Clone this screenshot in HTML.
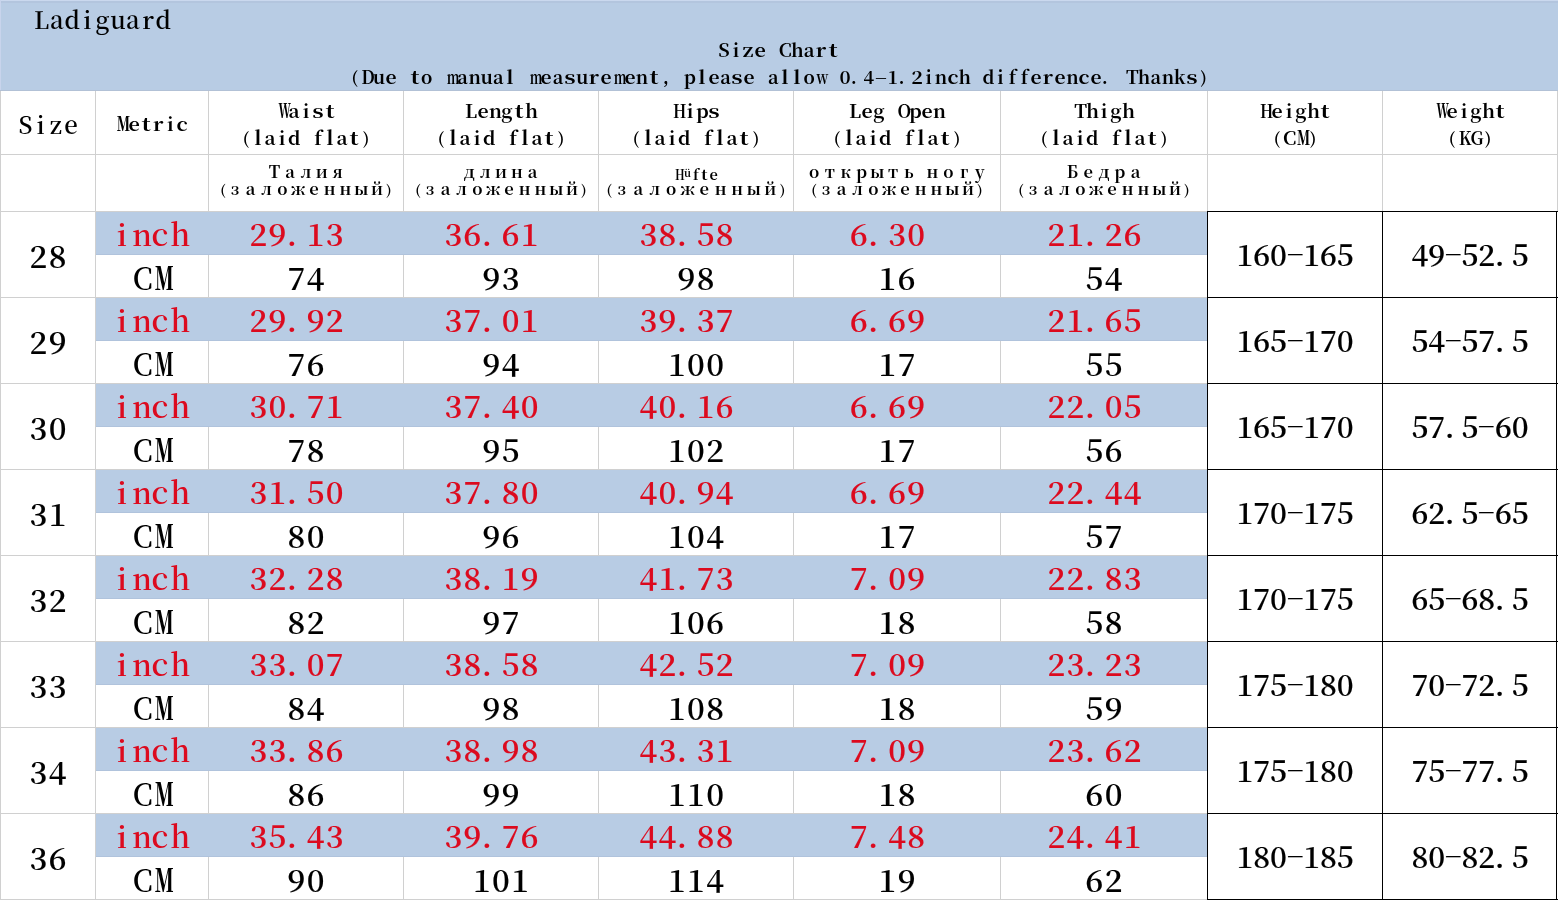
<!DOCTYPE html>
<html><head><meta charset="utf-8"><title>Size Chart</title>
<style>
html,body{margin:0;padding:0;background:#fff;}
body{width:1558px;height:900px;overflow:hidden;position:relative;font-family:"Liberation Serif","Noto Serif CJK SC",serif;color:#000;}
.r{position:absolute;}
.m{position:absolute;white-space:nowrap;}
.m i{display:inline-block;font-style:normal;text-align:center;width:var(--w);white-space:pre;}
.m i.p{text-align:left;text-indent:-0.01em;}
</style></head><body>
<div class="r" style="left:0px;top:0px;width:1558px;height:91px;background:#b8cce4"></div>
<div class="r" style="left:0px;top:0px;width:1558px;height:1px;background:#cad8ee"></div>
<div class="r" style="left:0px;top:1px;width:1558px;height:2px;background:#b3c5de"></div>
<div class="r" style="left:0px;top:0px;width:1px;height:91px;background:#c8d4ec"></div>
<div class="r" style="left:0px;top:90px;width:1558px;height:1px;background:#b2c1d6"></div>
<div class="r" style="left:96px;top:212px;width:1111px;height:43px;background:#b8cce4"></div>
<div class="r" style="left:96px;top:254px;width:1111px;height:1px;background:#b0c3dc"></div>
<div class="r" style="left:96px;top:298px;width:1111px;height:43px;background:#b8cce4"></div>
<div class="r" style="left:96px;top:340px;width:1111px;height:1px;background:#b0c3dc"></div>
<div class="r" style="left:96px;top:384px;width:1111px;height:43px;background:#b8cce4"></div>
<div class="r" style="left:96px;top:426px;width:1111px;height:1px;background:#b0c3dc"></div>
<div class="r" style="left:96px;top:470px;width:1111px;height:43px;background:#b8cce4"></div>
<div class="r" style="left:96px;top:512px;width:1111px;height:1px;background:#b0c3dc"></div>
<div class="r" style="left:96px;top:556px;width:1111px;height:43px;background:#b8cce4"></div>
<div class="r" style="left:96px;top:598px;width:1111px;height:1px;background:#b0c3dc"></div>
<div class="r" style="left:96px;top:642px;width:1111px;height:43px;background:#b8cce4"></div>
<div class="r" style="left:96px;top:684px;width:1111px;height:1px;background:#b0c3dc"></div>
<div class="r" style="left:96px;top:728px;width:1111px;height:43px;background:#b8cce4"></div>
<div class="r" style="left:96px;top:770px;width:1111px;height:1px;background:#b0c3dc"></div>
<div class="r" style="left:96px;top:814px;width:1111px;height:43px;background:#b8cce4"></div>
<div class="r" style="left:96px;top:856px;width:1111px;height:1px;background:#b0c3dc"></div>
<div class="r" style="left:0px;top:154px;width:1558px;height:1px;background:#d0d0d0"></div>
<div class="r" style="left:0px;top:211px;width:1207px;height:1px;background:#d0d0d0"></div>
<div class="r" style="left:0px;top:297px;width:1207px;height:1px;background:#d0d0d0"></div>
<div class="r" style="left:0px;top:383px;width:1207px;height:1px;background:#d0d0d0"></div>
<div class="r" style="left:0px;top:469px;width:1207px;height:1px;background:#d0d0d0"></div>
<div class="r" style="left:0px;top:555px;width:1207px;height:1px;background:#d0d0d0"></div>
<div class="r" style="left:0px;top:641px;width:1207px;height:1px;background:#d0d0d0"></div>
<div class="r" style="left:0px;top:727px;width:1207px;height:1px;background:#d0d0d0"></div>
<div class="r" style="left:0px;top:813px;width:1207px;height:1px;background:#d0d0d0"></div>
<div class="r" style="left:0px;top:899px;width:1207px;height:1px;background:#d0d0d0"></div>
<div class="r" style="left:0px;top:91px;width:1px;height:120px;background:#d0d0d0"></div>
<div class="r" style="left:95px;top:91px;width:1px;height:120px;background:#d0d0d0"></div>
<div class="r" style="left:208px;top:91px;width:1px;height:120px;background:#d0d0d0"></div>
<div class="r" style="left:403px;top:91px;width:1px;height:120px;background:#d0d0d0"></div>
<div class="r" style="left:598px;top:91px;width:1px;height:120px;background:#d0d0d0"></div>
<div class="r" style="left:793px;top:91px;width:1px;height:120px;background:#d0d0d0"></div>
<div class="r" style="left:1000px;top:91px;width:1px;height:120px;background:#d0d0d0"></div>
<div class="r" style="left:1207px;top:91px;width:1px;height:120px;background:#d0d0d0"></div>
<div class="r" style="left:1382px;top:91px;width:1px;height:120px;background:#d0d0d0"></div>
<div class="r" style="left:1557px;top:91px;width:1px;height:120px;background:#d0d0d0"></div>
<div class="r" style="left:0px;top:211px;width:1px;height:689px;background:#d0d0d0"></div>
<div class="r" style="left:95px;top:211px;width:1px;height:689px;background:#d0d0d0"></div>
<div class="r" style="left:208px;top:255px;width:1px;height:42px;background:#d0d0d0"></div>
<div class="r" style="left:403px;top:255px;width:1px;height:42px;background:#d0d0d0"></div>
<div class="r" style="left:598px;top:255px;width:1px;height:42px;background:#d0d0d0"></div>
<div class="r" style="left:793px;top:255px;width:1px;height:42px;background:#d0d0d0"></div>
<div class="r" style="left:1000px;top:255px;width:1px;height:42px;background:#d0d0d0"></div>
<div class="r" style="left:208px;top:341px;width:1px;height:42px;background:#d0d0d0"></div>
<div class="r" style="left:403px;top:341px;width:1px;height:42px;background:#d0d0d0"></div>
<div class="r" style="left:598px;top:341px;width:1px;height:42px;background:#d0d0d0"></div>
<div class="r" style="left:793px;top:341px;width:1px;height:42px;background:#d0d0d0"></div>
<div class="r" style="left:1000px;top:341px;width:1px;height:42px;background:#d0d0d0"></div>
<div class="r" style="left:208px;top:427px;width:1px;height:42px;background:#d0d0d0"></div>
<div class="r" style="left:403px;top:427px;width:1px;height:42px;background:#d0d0d0"></div>
<div class="r" style="left:598px;top:427px;width:1px;height:42px;background:#d0d0d0"></div>
<div class="r" style="left:793px;top:427px;width:1px;height:42px;background:#d0d0d0"></div>
<div class="r" style="left:1000px;top:427px;width:1px;height:42px;background:#d0d0d0"></div>
<div class="r" style="left:208px;top:513px;width:1px;height:42px;background:#d0d0d0"></div>
<div class="r" style="left:403px;top:513px;width:1px;height:42px;background:#d0d0d0"></div>
<div class="r" style="left:598px;top:513px;width:1px;height:42px;background:#d0d0d0"></div>
<div class="r" style="left:793px;top:513px;width:1px;height:42px;background:#d0d0d0"></div>
<div class="r" style="left:1000px;top:513px;width:1px;height:42px;background:#d0d0d0"></div>
<div class="r" style="left:208px;top:599px;width:1px;height:42px;background:#d0d0d0"></div>
<div class="r" style="left:403px;top:599px;width:1px;height:42px;background:#d0d0d0"></div>
<div class="r" style="left:598px;top:599px;width:1px;height:42px;background:#d0d0d0"></div>
<div class="r" style="left:793px;top:599px;width:1px;height:42px;background:#d0d0d0"></div>
<div class="r" style="left:1000px;top:599px;width:1px;height:42px;background:#d0d0d0"></div>
<div class="r" style="left:208px;top:685px;width:1px;height:42px;background:#d0d0d0"></div>
<div class="r" style="left:403px;top:685px;width:1px;height:42px;background:#d0d0d0"></div>
<div class="r" style="left:598px;top:685px;width:1px;height:42px;background:#d0d0d0"></div>
<div class="r" style="left:793px;top:685px;width:1px;height:42px;background:#d0d0d0"></div>
<div class="r" style="left:1000px;top:685px;width:1px;height:42px;background:#d0d0d0"></div>
<div class="r" style="left:208px;top:771px;width:1px;height:42px;background:#d0d0d0"></div>
<div class="r" style="left:403px;top:771px;width:1px;height:42px;background:#d0d0d0"></div>
<div class="r" style="left:598px;top:771px;width:1px;height:42px;background:#d0d0d0"></div>
<div class="r" style="left:793px;top:771px;width:1px;height:42px;background:#d0d0d0"></div>
<div class="r" style="left:1000px;top:771px;width:1px;height:42px;background:#d0d0d0"></div>
<div class="r" style="left:208px;top:857px;width:1px;height:42px;background:#d0d0d0"></div>
<div class="r" style="left:403px;top:857px;width:1px;height:42px;background:#d0d0d0"></div>
<div class="r" style="left:598px;top:857px;width:1px;height:42px;background:#d0d0d0"></div>
<div class="r" style="left:793px;top:857px;width:1px;height:42px;background:#d0d0d0"></div>
<div class="r" style="left:1000px;top:857px;width:1px;height:42px;background:#d0d0d0"></div>
<div class="r" style="left:1207px;top:211px;width:351px;height:1px;background:#000"></div>
<div class="r" style="left:1207px;top:297px;width:351px;height:1px;background:#000"></div>
<div class="r" style="left:1207px;top:383px;width:351px;height:1px;background:#000"></div>
<div class="r" style="left:1207px;top:469px;width:351px;height:1px;background:#000"></div>
<div class="r" style="left:1207px;top:555px;width:351px;height:1px;background:#000"></div>
<div class="r" style="left:1207px;top:641px;width:351px;height:1px;background:#000"></div>
<div class="r" style="left:1207px;top:727px;width:351px;height:1px;background:#000"></div>
<div class="r" style="left:1207px;top:813px;width:351px;height:1px;background:#000"></div>
<div class="r" style="left:1207px;top:899px;width:351px;height:1px;background:#000"></div>
<div class="r" style="left:1207px;top:211px;width:1px;height:689px;background:#000"></div>
<div class="r" style="left:1382px;top:211px;width:1px;height:689px;background:#000"></div>
<div class="r" style="left:1556px;top:211px;width:1px;height:689px;background:#000"></div>
<div class="m" style="left:34.10px;top:7.32px;font-size:24.00px;line-height:24.00px;--w:15.20px;font-weight:600;font-family:'Noto Serif CJK SC', 'Liberation Serif', serif;"><i>L</i><i>a</i><i>d</i><i>i</i><i>g</i><i style="transform:scaleX(0.969)">u</i><i>a</i><i>r</i><i>d</i></div>
<div class="m" style="left:717.80px;top:39.65px;font-size:18.50px;line-height:18.50px;--w:12.20px;font-weight:700;font-family:'Noto Serif CJK SC', 'Liberation Serif', serif;"><i style="transform:scaleX(1.049)">S</i><i>i</i><i style="transform:scaleX(1.147)">z</i><i style="transform:scaleX(1.066)">e</i><i> </i><i>C</i><i>h</i><i>a</i><i style="transform:scaleX(1.125)">r</i><i style="transform:scaleX(1.266)">t</i></div>
<div class="m" style="left:348.94px;top:66.63px;font-size:18.20px;line-height:18.20px;--w:11.96px;font-weight:700;font-family:'Noto Serif CJK SC', 'Liberation Serif', serif;"><i style="font-size:16.50px">(</i><i style="transform:scaleX(0.944)">D</i><i>u</i><i style="transform:scaleX(1.062)">e</i><i> </i><i style="transform:scaleX(1.262)">t</i><i>o</i><i> </i><i style="transform:scaleX(0.691)">m</i><i>a</i><i>n</i><i>u</i><i>a</i><i style="transform:scaleX(1.129)">l</i><i> </i><i style="transform:scaleX(0.691)">m</i><i style="transform:scaleX(1.062)">e</i><i>a</i><i style="transform:scaleX(1.258)">s</i><i>u</i><i style="transform:scaleX(1.121)">r</i><i style="transform:scaleX(1.062)">e</i><i style="transform:scaleX(0.691)">m</i><i style="transform:scaleX(1.062)">e</i><i>n</i><i style="transform:scaleX(1.262)">t</i><i>,</i><i> </i><i>p</i><i style="transform:scaleX(1.129)">l</i><i style="transform:scaleX(1.062)">e</i><i>a</i><i style="transform:scaleX(1.258)">s</i><i style="transform:scaleX(1.062)">e</i><i> </i><i>a</i><i style="transform:scaleX(1.129)">l</i><i style="transform:scaleX(1.129)">l</i><i>o</i><i style="transform:scaleX(0.748)">w</i><i> </i><i style="transform:scaleX(1.041)">0</i><i class="p">.</i><i>4</i><i style="transform:translateY(0.00px) scale(2.011,0.75)">-</i><i>1</i><i class="p">.</i><i style="transform:scaleX(1.084)">2</i><i>i</i><i>n</i><i style="transform:scaleX(1.077)">c</i><i>h</i><i> </i><i>d</i><i>i</i><i>f</i><i>f</i><i style="transform:scaleX(1.062)">e</i><i style="transform:scaleX(1.121)">r</i><i style="transform:scaleX(1.062)">e</i><i>n</i><i style="transform:scaleX(1.077)">c</i><i style="transform:scaleX(1.062)">e</i><i class="p">.</i><i> </i><i>T</i><i>h</i><i>a</i><i>n</i><i>k</i><i style="transform:scaleX(1.258)">s</i><i style="font-size:16.50px">)</i></div>
<div class="m" style="left:17.80px;top:111.92px;font-size:24.00px;line-height:24.00px;--w:15.20px;font-weight:600;font-family:'Noto Serif CJK SC', 'Liberation Serif', serif;"><i>S</i><i>i</i><i>z</i><i>e</i></div>
<div class="m" style="left:115.40px;top:113.28px;font-size:19.00px;line-height:19.00px;--w:12.20px;font-weight:700;font-family:'Noto Serif CJK SC', 'Liberation Serif', serif;"><i style="font-weight:900;transform:scaleX(0.693)">M</i><i style="transform:scaleX(1.038)">e</i><i style="transform:scaleX(1.233)">t</i><i style="transform:scaleX(1.095)">r</i><i>i</i><i style="transform:scaleX(1.053)">c</i></div>
<div class="m" style="left:276.00px;top:100.28px;font-size:19.00px;line-height:19.00px;--w:12.00px;font-weight:700;font-family:'Noto Serif CJK SC', 'Liberation Serif', serif;"><i style="font-weight:900;transform:scaleX(0.586)">W</i><i>a</i><i>i</i><i style="transform:scaleX(1.209)">s</i><i style="transform:scaleX(1.213)">t</i></div>
<div class="m" style="left:240.00px;top:126.88px;font-size:19.00px;line-height:19.00px;--w:12.00px;font-weight:700;font-family:'Noto Serif CJK SC', 'Liberation Serif', serif;"><i style="font-size:16.50px">(</i><i style="transform:scaleX(1.085)">l</i><i>a</i><i>i</i><i>d</i><i> </i><i>f</i><i style="transform:scaleX(1.085)">l</i><i>a</i><i style="transform:scaleX(1.213)">t</i><i style="font-size:16.50px">)</i></div>
<div class="m" style="left:465.00px;top:100.28px;font-size:19.00px;line-height:19.00px;--w:12.00px;font-weight:700;font-family:'Noto Serif CJK SC', 'Liberation Serif', serif;"><i>L</i><i style="transform:scaleX(1.021)">e</i><i>n</i><i>g</i><i style="transform:scaleX(1.213)">t</i><i>h</i></div>
<div class="m" style="left:435.00px;top:126.88px;font-size:19.00px;line-height:19.00px;--w:12.00px;font-weight:700;font-family:'Noto Serif CJK SC', 'Liberation Serif', serif;"><i style="font-size:16.50px">(</i><i style="transform:scaleX(1.085)">l</i><i>a</i><i>i</i><i>d</i><i> </i><i>f</i><i style="transform:scaleX(1.085)">l</i><i>a</i><i style="transform:scaleX(1.213)">t</i><i style="font-size:16.50px">)</i></div>
<div class="m" style="left:672.00px;top:100.28px;font-size:19.00px;line-height:19.00px;--w:12.00px;font-weight:700;font-family:'Noto Serif CJK SC', 'Liberation Serif', serif;"><i style="transform:scaleX(0.816)">H</i><i>i</i><i>p</i><i style="transform:scaleX(1.209)">s</i></div>
<div class="m" style="left:630.00px;top:126.88px;font-size:19.00px;line-height:19.00px;--w:12.00px;font-weight:700;font-family:'Noto Serif CJK SC', 'Liberation Serif', serif;"><i style="font-size:16.50px">(</i><i style="transform:scaleX(1.085)">l</i><i>a</i><i>i</i><i>d</i><i> </i><i>f</i><i style="transform:scaleX(1.085)">l</i><i>a</i><i style="transform:scaleX(1.213)">t</i><i style="font-size:16.50px">)</i></div>
<div class="m" style="left:849.00px;top:100.28px;font-size:19.00px;line-height:19.00px;--w:12.00px;font-weight:700;font-family:'Noto Serif CJK SC', 'Liberation Serif', serif;"><i>L</i><i style="transform:scaleX(1.021)">e</i><i>g</i><i> </i><i style="transform:scaleX(0.915)">O</i><i>p</i><i style="transform:scaleX(1.021)">e</i><i>n</i></div>
<div class="m" style="left:831.00px;top:126.88px;font-size:19.00px;line-height:19.00px;--w:12.00px;font-weight:700;font-family:'Noto Serif CJK SC', 'Liberation Serif', serif;"><i style="font-size:16.50px">(</i><i style="transform:scaleX(1.085)">l</i><i>a</i><i>i</i><i>d</i><i> </i><i>f</i><i style="transform:scaleX(1.085)">l</i><i>a</i><i style="transform:scaleX(1.213)">t</i><i style="font-size:16.50px">)</i></div>
<div class="m" style="left:1074.00px;top:100.28px;font-size:19.00px;line-height:19.00px;--w:12.00px;font-weight:700;font-family:'Noto Serif CJK SC', 'Liberation Serif', serif;"><i style="transform:scaleX(0.972)">T</i><i>h</i><i>i</i><i>g</i><i>h</i></div>
<div class="m" style="left:1038.00px;top:126.88px;font-size:19.00px;line-height:19.00px;--w:12.00px;font-weight:700;font-family:'Noto Serif CJK SC', 'Liberation Serif', serif;"><i style="font-size:16.50px">(</i><i style="transform:scaleX(1.085)">l</i><i>a</i><i>i</i><i>d</i><i> </i><i>f</i><i style="transform:scaleX(1.085)">l</i><i>a</i><i style="transform:scaleX(1.213)">t</i><i style="font-size:16.50px">)</i></div>
<div class="m" style="left:1259.00px;top:100.28px;font-size:19.00px;line-height:19.00px;--w:12.00px;font-weight:700;font-family:'Noto Serif CJK SC', 'Liberation Serif', serif;"><i style="transform:scaleX(0.816)">H</i><i style="transform:scaleX(1.021)">e</i><i>i</i><i>g</i><i>h</i><i style="transform:scaleX(1.213)">t</i></div>
<div class="m" style="left:1271.00px;top:126.88px;font-size:19.00px;line-height:19.00px;--w:12.00px;font-weight:700;font-family:'Noto Serif CJK SC', 'Liberation Serif', serif;"><i style="font-size:16.50px">(</i><i>C</i><i style="font-weight:900;transform:scaleX(0.682)">M</i><i style="font-size:16.50px">)</i></div>
<div class="m" style="left:1434.00px;top:100.28px;font-size:19.00px;line-height:19.00px;--w:12.00px;font-weight:700;font-family:'Noto Serif CJK SC', 'Liberation Serif', serif;"><i style="font-weight:900;transform:scaleX(0.586)">W</i><i style="transform:scaleX(1.021)">e</i><i>i</i><i>g</i><i>h</i><i style="transform:scaleX(1.213)">t</i></div>
<div class="m" style="left:1446.00px;top:126.88px;font-size:19.00px;line-height:19.00px;--w:12.00px;font-weight:700;font-family:'Noto Serif CJK SC', 'Liberation Serif', serif;"><i style="font-size:16.50px">(</i><i style="transform:scaleX(0.876)">K</i><i style="transform:scaleX(0.909)">G</i><i style="font-size:16.50px">)</i></div>
<div class="m" style="left:266.50px;top:163.31px;font-size:16.50px;line-height:16.50px;--w:7.90px;font-weight:700;font-family:'Noto Serif CJK SC', 'Liberation Serif', serif;"><i style="width:15.80px">Т</i><i style="width:15.80px">а</i><i style="width:15.80px">л</i><i style="width:15.80px">и</i><i style="width:15.80px">я</i></div>
<div class="m" style="left:219.10px;top:180.01px;font-size:16.50px;line-height:16.50px;--w:7.90px;font-weight:700;font-family:'Noto Serif CJK SC', 'Liberation Serif', serif;"><i style="font-size:14.00px">(</i><i style="width:15.80px">з</i><i style="width:15.80px">а</i><i style="width:15.80px">л</i><i style="width:15.80px">о</i><i style="width:15.80px">ж</i><i style="width:15.80px">е</i><i style="width:15.80px">н</i><i style="width:15.80px">н</i><i style="width:15.80px">ы</i><i style="width:15.80px">й</i><i style="font-size:14.00px">)</i></div>
<div class="m" style="left:461.50px;top:163.31px;font-size:16.50px;line-height:16.50px;--w:7.90px;font-weight:700;font-family:'Noto Serif CJK SC', 'Liberation Serif', serif;"><i style="width:15.80px">д</i><i style="width:15.80px">л</i><i style="width:15.80px">и</i><i style="width:15.80px">н</i><i style="width:15.80px">а</i></div>
<div class="m" style="left:414.10px;top:180.01px;font-size:16.50px;line-height:16.50px;--w:7.90px;font-weight:700;font-family:'Noto Serif CJK SC', 'Liberation Serif', serif;"><i style="font-size:14.00px">(</i><i style="width:15.80px">з</i><i style="width:15.80px">а</i><i style="width:15.80px">л</i><i style="width:15.80px">о</i><i style="width:15.80px">ж</i><i style="width:15.80px">е</i><i style="width:15.80px">н</i><i style="width:15.80px">н</i><i style="width:15.80px">ы</i><i style="width:15.80px">й</i><i style="font-size:14.00px">)</i></div>
<div class="m" style="left:674.00px;top:166.08px;font-size:14.50px;line-height:14.50px;--w:8.80px;font-weight:700;font-family:'Noto Serif CJK SC', 'Liberation Serif', serif;"><i style="transform:scaleX(0.784)">H</i><i style="font-size:10.44px;vertical-align:2.90px;transform:scaleX(0.982)">ü</i><i>f</i><i style="transform:scaleX(1.165)">t</i><i>e</i></div>
<div class="m" style="left:605.25px;top:180.01px;font-size:16.50px;line-height:16.50px;--w:8.25px;font-weight:700;font-family:'Noto Serif CJK SC', 'Liberation Serif', serif;"><i style="font-size:14.00px">(</i><i style="width:16.50px">з</i><i style="width:16.50px">а</i><i style="width:16.50px">л</i><i style="width:16.50px">о</i><i style="width:16.50px">ж</i><i style="width:16.50px">е</i><i style="width:16.50px">н</i><i style="width:16.50px">н</i><i style="width:16.50px">ы</i><i style="width:16.50px">й</i><i style="font-size:14.00px">)</i></div>
<div class="m" style="left:806.15px;top:163.31px;font-size:16.50px;line-height:16.50px;--w:7.90px;font-weight:700;font-family:'Noto Serif CJK SC', 'Liberation Serif', serif;"><i style="width:15.80px">о</i><i style="width:15.80px">т</i><i style="width:15.80px">к</i><i style="width:15.80px">р</i><i style="width:15.80px">ы</i><i style="width:15.80px">т</i><i style="width:15.80px">ь</i><i> </i><i style="width:15.80px">н</i><i style="width:15.80px">о</i><i style="width:15.80px">г</i><i style="width:15.80px">у</i></div>
<div class="m" style="left:810.10px;top:180.01px;font-size:16.50px;line-height:16.50px;--w:7.90px;font-weight:700;font-family:'Noto Serif CJK SC', 'Liberation Serif', serif;"><i style="font-size:14.00px">(</i><i style="width:15.80px">з</i><i style="width:15.80px">а</i><i style="width:15.80px">л</i><i style="width:15.80px">о</i><i style="width:15.80px">ж</i><i style="width:15.80px">е</i><i style="width:15.80px">н</i><i style="width:15.80px">н</i><i style="width:15.80px">ы</i><i style="width:15.80px">й</i><i style="font-size:14.00px">)</i></div>
<div class="m" style="left:1064.50px;top:163.31px;font-size:16.50px;line-height:16.50px;--w:7.90px;font-weight:700;font-family:'Noto Serif CJK SC', 'Liberation Serif', serif;"><i style="width:15.80px">Б</i><i style="width:15.80px">е</i><i style="width:15.80px">д</i><i style="width:15.80px">р</i><i style="width:15.80px">а</i></div>
<div class="m" style="left:1017.10px;top:180.01px;font-size:16.50px;line-height:16.50px;--w:7.90px;font-weight:700;font-family:'Noto Serif CJK SC', 'Liberation Serif', serif;"><i style="font-size:14.00px">(</i><i style="width:15.80px">з</i><i style="width:15.80px">а</i><i style="width:15.80px">л</i><i style="width:15.80px">о</i><i style="width:15.80px">ж</i><i style="width:15.80px">е</i><i style="width:15.80px">н</i><i style="width:15.80px">н</i><i style="width:15.80px">ы</i><i style="width:15.80px">й</i><i style="font-size:14.00px">)</i></div>
<div class="m" style="left:28.90px;top:238.69px;font-size:31.00px;line-height:31.00px;--w:19.20px;font-weight:600;font-family:'Noto Serif CJK SC', 'Liberation Serif', serif;-webkit-text-stroke:0.15px #000;"><i>2</i><i>8</i></div>
<div class="m" style="left:112.50px;top:218.36px;font-size:30.50px;line-height:30.50px;--w:19.00px;font-weight:600;font-family:'Noto Serif CJK SC', 'Liberation Serif', serif;color:#dc0a1e;"><i>i</i><i style="transform:scaleX(0.965)">n</i><i>c</i><i style="transform:scaleX(0.970)">h</i></div>
<div class="m" style="left:131.50px;top:260.61px;font-size:31.30px;line-height:31.30px;--w:19.00px;font-weight:600;font-family:'Noto Serif CJK SC', 'Liberation Serif', serif;"><i style="transform:scaleX(0.914)">C</i><i style="font-weight:900;transform:scaleX(0.601)">M</i></div>
<div class="m" style="left:248.75px;top:217.39px;font-size:31.00px;line-height:31.00px;--w:19.10px;font-weight:600;font-family:'Noto Serif CJK SC', 'Liberation Serif', serif;color:#dc0a1e;-webkit-text-stroke:0.15px #dc0a1e;"><i>2</i><i>9</i><i class="p">.</i><i>1</i><i>3</i></div>
<div class="m" style="left:286.90px;top:261.39px;font-size:31.00px;line-height:31.00px;--w:19.10px;font-weight:600;font-family:'Noto Serif CJK SC', 'Liberation Serif', serif;-webkit-text-stroke:0.15px #000;"><i>7</i><i>4</i></div>
<div class="m" style="left:443.75px;top:217.39px;font-size:31.00px;line-height:31.00px;--w:19.10px;font-weight:600;font-family:'Noto Serif CJK SC', 'Liberation Serif', serif;color:#dc0a1e;-webkit-text-stroke:0.15px #dc0a1e;"><i>3</i><i>6</i><i class="p">.</i><i>6</i><i>1</i></div>
<div class="m" style="left:481.90px;top:261.39px;font-size:31.00px;line-height:31.00px;--w:19.10px;font-weight:600;font-family:'Noto Serif CJK SC', 'Liberation Serif', serif;-webkit-text-stroke:0.15px #000;"><i>9</i><i>3</i></div>
<div class="m" style="left:638.75px;top:217.39px;font-size:31.00px;line-height:31.00px;--w:19.10px;font-weight:600;font-family:'Noto Serif CJK SC', 'Liberation Serif', serif;color:#dc0a1e;-webkit-text-stroke:0.15px #dc0a1e;"><i>3</i><i>8</i><i class="p">.</i><i>5</i><i>8</i></div>
<div class="m" style="left:676.90px;top:261.39px;font-size:31.00px;line-height:31.00px;--w:19.10px;font-weight:600;font-family:'Noto Serif CJK SC', 'Liberation Serif', serif;-webkit-text-stroke:0.15px #000;"><i>9</i><i>8</i></div>
<div class="m" style="left:849.30px;top:217.39px;font-size:31.00px;line-height:31.00px;--w:19.10px;font-weight:600;font-family:'Noto Serif CJK SC', 'Liberation Serif', serif;color:#dc0a1e;-webkit-text-stroke:0.15px #dc0a1e;"><i>6</i><i class="p">.</i><i>3</i><i>0</i></div>
<div class="m" style="left:877.90px;top:261.39px;font-size:31.00px;line-height:31.00px;--w:19.10px;font-weight:600;font-family:'Noto Serif CJK SC', 'Liberation Serif', serif;-webkit-text-stroke:0.15px #000;"><i>1</i><i>6</i></div>
<div class="m" style="left:1046.75px;top:217.39px;font-size:31.00px;line-height:31.00px;--w:19.10px;font-weight:600;font-family:'Noto Serif CJK SC', 'Liberation Serif', serif;color:#dc0a1e;-webkit-text-stroke:0.15px #dc0a1e;"><i>2</i><i>1</i><i class="p">.</i><i>2</i><i>6</i></div>
<div class="m" style="left:1084.90px;top:261.39px;font-size:31.00px;line-height:31.00px;--w:19.10px;font-weight:600;font-family:'Noto Serif CJK SC', 'Liberation Serif', serif;-webkit-text-stroke:0.15px #000;"><i>5</i><i>4</i></div>
<div class="m" style="left:1236.55px;top:239.29px;font-size:29.50px;line-height:29.50px;--w:16.70px;font-weight:600;font-family:'Noto Serif CJK SC', 'Liberation Serif', serif;-webkit-text-stroke:0.15px #000;"><i>1</i><i>6</i><i>0</i><i style="transform:translateY(-1.62px) scale(1.796,0.75)">-</i><i>1</i><i>6</i><i>5</i></div>
<div class="m" style="left:1411.55px;top:239.29px;font-size:29.50px;line-height:29.50px;--w:16.70px;font-weight:600;font-family:'Noto Serif CJK SC', 'Liberation Serif', serif;-webkit-text-stroke:0.15px #000;"><i>4</i><i>9</i><i style="transform:translateY(-1.62px) scale(1.796,0.75)">-</i><i>5</i><i>2</i><i class="p">.</i><i>5</i></div>
<div class="m" style="left:28.90px;top:324.69px;font-size:31.00px;line-height:31.00px;--w:19.20px;font-weight:600;font-family:'Noto Serif CJK SC', 'Liberation Serif', serif;-webkit-text-stroke:0.15px #000;"><i>2</i><i>9</i></div>
<div class="m" style="left:112.50px;top:304.36px;font-size:30.50px;line-height:30.50px;--w:19.00px;font-weight:600;font-family:'Noto Serif CJK SC', 'Liberation Serif', serif;color:#dc0a1e;"><i>i</i><i style="transform:scaleX(0.965)">n</i><i>c</i><i style="transform:scaleX(0.970)">h</i></div>
<div class="m" style="left:131.50px;top:346.61px;font-size:31.30px;line-height:31.30px;--w:19.00px;font-weight:600;font-family:'Noto Serif CJK SC', 'Liberation Serif', serif;"><i style="transform:scaleX(0.914)">C</i><i style="font-weight:900;transform:scaleX(0.601)">M</i></div>
<div class="m" style="left:248.75px;top:303.39px;font-size:31.00px;line-height:31.00px;--w:19.10px;font-weight:600;font-family:'Noto Serif CJK SC', 'Liberation Serif', serif;color:#dc0a1e;-webkit-text-stroke:0.15px #dc0a1e;"><i>2</i><i>9</i><i class="p">.</i><i>9</i><i>2</i></div>
<div class="m" style="left:286.90px;top:347.39px;font-size:31.00px;line-height:31.00px;--w:19.10px;font-weight:600;font-family:'Noto Serif CJK SC', 'Liberation Serif', serif;-webkit-text-stroke:0.15px #000;"><i>7</i><i>6</i></div>
<div class="m" style="left:443.75px;top:303.39px;font-size:31.00px;line-height:31.00px;--w:19.10px;font-weight:600;font-family:'Noto Serif CJK SC', 'Liberation Serif', serif;color:#dc0a1e;-webkit-text-stroke:0.15px #dc0a1e;"><i>3</i><i>7</i><i class="p">.</i><i>0</i><i>1</i></div>
<div class="m" style="left:481.90px;top:347.39px;font-size:31.00px;line-height:31.00px;--w:19.10px;font-weight:600;font-family:'Noto Serif CJK SC', 'Liberation Serif', serif;-webkit-text-stroke:0.15px #000;"><i>9</i><i>4</i></div>
<div class="m" style="left:638.75px;top:303.39px;font-size:31.00px;line-height:31.00px;--w:19.10px;font-weight:600;font-family:'Noto Serif CJK SC', 'Liberation Serif', serif;color:#dc0a1e;-webkit-text-stroke:0.15px #dc0a1e;"><i>3</i><i>9</i><i class="p">.</i><i>3</i><i>7</i></div>
<div class="m" style="left:667.35px;top:347.39px;font-size:31.00px;line-height:31.00px;--w:19.10px;font-weight:600;font-family:'Noto Serif CJK SC', 'Liberation Serif', serif;-webkit-text-stroke:0.15px #000;"><i>1</i><i>0</i><i>0</i></div>
<div class="m" style="left:849.30px;top:303.39px;font-size:31.00px;line-height:31.00px;--w:19.10px;font-weight:600;font-family:'Noto Serif CJK SC', 'Liberation Serif', serif;color:#dc0a1e;-webkit-text-stroke:0.15px #dc0a1e;"><i>6</i><i class="p">.</i><i>6</i><i>9</i></div>
<div class="m" style="left:877.90px;top:347.39px;font-size:31.00px;line-height:31.00px;--w:19.10px;font-weight:600;font-family:'Noto Serif CJK SC', 'Liberation Serif', serif;-webkit-text-stroke:0.15px #000;"><i>1</i><i>7</i></div>
<div class="m" style="left:1046.75px;top:303.39px;font-size:31.00px;line-height:31.00px;--w:19.10px;font-weight:600;font-family:'Noto Serif CJK SC', 'Liberation Serif', serif;color:#dc0a1e;-webkit-text-stroke:0.15px #dc0a1e;"><i>2</i><i>1</i><i class="p">.</i><i>6</i><i>5</i></div>
<div class="m" style="left:1084.90px;top:347.39px;font-size:31.00px;line-height:31.00px;--w:19.10px;font-weight:600;font-family:'Noto Serif CJK SC', 'Liberation Serif', serif;-webkit-text-stroke:0.15px #000;"><i>5</i><i>5</i></div>
<div class="m" style="left:1236.55px;top:325.29px;font-size:29.50px;line-height:29.50px;--w:16.70px;font-weight:600;font-family:'Noto Serif CJK SC', 'Liberation Serif', serif;-webkit-text-stroke:0.15px #000;"><i>1</i><i>6</i><i>5</i><i style="transform:translateY(-1.62px) scale(1.796,0.75)">-</i><i>1</i><i>7</i><i>0</i></div>
<div class="m" style="left:1411.55px;top:325.29px;font-size:29.50px;line-height:29.50px;--w:16.70px;font-weight:600;font-family:'Noto Serif CJK SC', 'Liberation Serif', serif;-webkit-text-stroke:0.15px #000;"><i>5</i><i>4</i><i style="transform:translateY(-1.62px) scale(1.796,0.75)">-</i><i>5</i><i>7</i><i class="p">.</i><i>5</i></div>
<div class="m" style="left:28.90px;top:410.69px;font-size:31.00px;line-height:31.00px;--w:19.20px;font-weight:600;font-family:'Noto Serif CJK SC', 'Liberation Serif', serif;-webkit-text-stroke:0.15px #000;"><i>3</i><i>0</i></div>
<div class="m" style="left:112.50px;top:390.36px;font-size:30.50px;line-height:30.50px;--w:19.00px;font-weight:600;font-family:'Noto Serif CJK SC', 'Liberation Serif', serif;color:#dc0a1e;"><i>i</i><i style="transform:scaleX(0.965)">n</i><i>c</i><i style="transform:scaleX(0.970)">h</i></div>
<div class="m" style="left:131.50px;top:432.61px;font-size:31.30px;line-height:31.30px;--w:19.00px;font-weight:600;font-family:'Noto Serif CJK SC', 'Liberation Serif', serif;"><i style="transform:scaleX(0.914)">C</i><i style="font-weight:900;transform:scaleX(0.601)">M</i></div>
<div class="m" style="left:248.75px;top:389.39px;font-size:31.00px;line-height:31.00px;--w:19.10px;font-weight:600;font-family:'Noto Serif CJK SC', 'Liberation Serif', serif;color:#dc0a1e;-webkit-text-stroke:0.15px #dc0a1e;"><i>3</i><i>0</i><i class="p">.</i><i>7</i><i>1</i></div>
<div class="m" style="left:286.90px;top:433.39px;font-size:31.00px;line-height:31.00px;--w:19.10px;font-weight:600;font-family:'Noto Serif CJK SC', 'Liberation Serif', serif;-webkit-text-stroke:0.15px #000;"><i>7</i><i>8</i></div>
<div class="m" style="left:443.75px;top:389.39px;font-size:31.00px;line-height:31.00px;--w:19.10px;font-weight:600;font-family:'Noto Serif CJK SC', 'Liberation Serif', serif;color:#dc0a1e;-webkit-text-stroke:0.15px #dc0a1e;"><i>3</i><i>7</i><i class="p">.</i><i>4</i><i>0</i></div>
<div class="m" style="left:481.90px;top:433.39px;font-size:31.00px;line-height:31.00px;--w:19.10px;font-weight:600;font-family:'Noto Serif CJK SC', 'Liberation Serif', serif;-webkit-text-stroke:0.15px #000;"><i>9</i><i>5</i></div>
<div class="m" style="left:638.75px;top:389.39px;font-size:31.00px;line-height:31.00px;--w:19.10px;font-weight:600;font-family:'Noto Serif CJK SC', 'Liberation Serif', serif;color:#dc0a1e;-webkit-text-stroke:0.15px #dc0a1e;"><i>4</i><i>0</i><i class="p">.</i><i>1</i><i>6</i></div>
<div class="m" style="left:667.35px;top:433.39px;font-size:31.00px;line-height:31.00px;--w:19.10px;font-weight:600;font-family:'Noto Serif CJK SC', 'Liberation Serif', serif;-webkit-text-stroke:0.15px #000;"><i>1</i><i>0</i><i>2</i></div>
<div class="m" style="left:849.30px;top:389.39px;font-size:31.00px;line-height:31.00px;--w:19.10px;font-weight:600;font-family:'Noto Serif CJK SC', 'Liberation Serif', serif;color:#dc0a1e;-webkit-text-stroke:0.15px #dc0a1e;"><i>6</i><i class="p">.</i><i>6</i><i>9</i></div>
<div class="m" style="left:877.90px;top:433.39px;font-size:31.00px;line-height:31.00px;--w:19.10px;font-weight:600;font-family:'Noto Serif CJK SC', 'Liberation Serif', serif;-webkit-text-stroke:0.15px #000;"><i>1</i><i>7</i></div>
<div class="m" style="left:1046.75px;top:389.39px;font-size:31.00px;line-height:31.00px;--w:19.10px;font-weight:600;font-family:'Noto Serif CJK SC', 'Liberation Serif', serif;color:#dc0a1e;-webkit-text-stroke:0.15px #dc0a1e;"><i>2</i><i>2</i><i class="p">.</i><i>0</i><i>5</i></div>
<div class="m" style="left:1084.90px;top:433.39px;font-size:31.00px;line-height:31.00px;--w:19.10px;font-weight:600;font-family:'Noto Serif CJK SC', 'Liberation Serif', serif;-webkit-text-stroke:0.15px #000;"><i>5</i><i>6</i></div>
<div class="m" style="left:1236.55px;top:411.29px;font-size:29.50px;line-height:29.50px;--w:16.70px;font-weight:600;font-family:'Noto Serif CJK SC', 'Liberation Serif', serif;-webkit-text-stroke:0.15px #000;"><i>1</i><i>6</i><i>5</i><i style="transform:translateY(-1.62px) scale(1.796,0.75)">-</i><i>1</i><i>7</i><i>0</i></div>
<div class="m" style="left:1411.55px;top:411.29px;font-size:29.50px;line-height:29.50px;--w:16.70px;font-weight:600;font-family:'Noto Serif CJK SC', 'Liberation Serif', serif;-webkit-text-stroke:0.15px #000;"><i>5</i><i>7</i><i class="p">.</i><i>5</i><i style="transform:translateY(-1.62px) scale(1.796,0.75)">-</i><i>6</i><i>0</i></div>
<div class="m" style="left:28.90px;top:496.69px;font-size:31.00px;line-height:31.00px;--w:19.20px;font-weight:600;font-family:'Noto Serif CJK SC', 'Liberation Serif', serif;-webkit-text-stroke:0.15px #000;"><i>3</i><i>1</i></div>
<div class="m" style="left:112.50px;top:476.36px;font-size:30.50px;line-height:30.50px;--w:19.00px;font-weight:600;font-family:'Noto Serif CJK SC', 'Liberation Serif', serif;color:#dc0a1e;"><i>i</i><i style="transform:scaleX(0.965)">n</i><i>c</i><i style="transform:scaleX(0.970)">h</i></div>
<div class="m" style="left:131.50px;top:518.61px;font-size:31.30px;line-height:31.30px;--w:19.00px;font-weight:600;font-family:'Noto Serif CJK SC', 'Liberation Serif', serif;"><i style="transform:scaleX(0.914)">C</i><i style="font-weight:900;transform:scaleX(0.601)">M</i></div>
<div class="m" style="left:248.75px;top:475.39px;font-size:31.00px;line-height:31.00px;--w:19.10px;font-weight:600;font-family:'Noto Serif CJK SC', 'Liberation Serif', serif;color:#dc0a1e;-webkit-text-stroke:0.15px #dc0a1e;"><i>3</i><i>1</i><i class="p">.</i><i>5</i><i>0</i></div>
<div class="m" style="left:286.90px;top:519.39px;font-size:31.00px;line-height:31.00px;--w:19.10px;font-weight:600;font-family:'Noto Serif CJK SC', 'Liberation Serif', serif;-webkit-text-stroke:0.15px #000;"><i>8</i><i>0</i></div>
<div class="m" style="left:443.75px;top:475.39px;font-size:31.00px;line-height:31.00px;--w:19.10px;font-weight:600;font-family:'Noto Serif CJK SC', 'Liberation Serif', serif;color:#dc0a1e;-webkit-text-stroke:0.15px #dc0a1e;"><i>3</i><i>7</i><i class="p">.</i><i>8</i><i>0</i></div>
<div class="m" style="left:481.90px;top:519.39px;font-size:31.00px;line-height:31.00px;--w:19.10px;font-weight:600;font-family:'Noto Serif CJK SC', 'Liberation Serif', serif;-webkit-text-stroke:0.15px #000;"><i>9</i><i>6</i></div>
<div class="m" style="left:638.75px;top:475.39px;font-size:31.00px;line-height:31.00px;--w:19.10px;font-weight:600;font-family:'Noto Serif CJK SC', 'Liberation Serif', serif;color:#dc0a1e;-webkit-text-stroke:0.15px #dc0a1e;"><i>4</i><i>0</i><i class="p">.</i><i>9</i><i>4</i></div>
<div class="m" style="left:667.35px;top:519.39px;font-size:31.00px;line-height:31.00px;--w:19.10px;font-weight:600;font-family:'Noto Serif CJK SC', 'Liberation Serif', serif;-webkit-text-stroke:0.15px #000;"><i>1</i><i>0</i><i>4</i></div>
<div class="m" style="left:849.30px;top:475.39px;font-size:31.00px;line-height:31.00px;--w:19.10px;font-weight:600;font-family:'Noto Serif CJK SC', 'Liberation Serif', serif;color:#dc0a1e;-webkit-text-stroke:0.15px #dc0a1e;"><i>6</i><i class="p">.</i><i>6</i><i>9</i></div>
<div class="m" style="left:877.90px;top:519.39px;font-size:31.00px;line-height:31.00px;--w:19.10px;font-weight:600;font-family:'Noto Serif CJK SC', 'Liberation Serif', serif;-webkit-text-stroke:0.15px #000;"><i>1</i><i>7</i></div>
<div class="m" style="left:1046.75px;top:475.39px;font-size:31.00px;line-height:31.00px;--w:19.10px;font-weight:600;font-family:'Noto Serif CJK SC', 'Liberation Serif', serif;color:#dc0a1e;-webkit-text-stroke:0.15px #dc0a1e;"><i>2</i><i>2</i><i class="p">.</i><i>4</i><i>4</i></div>
<div class="m" style="left:1084.90px;top:519.39px;font-size:31.00px;line-height:31.00px;--w:19.10px;font-weight:600;font-family:'Noto Serif CJK SC', 'Liberation Serif', serif;-webkit-text-stroke:0.15px #000;"><i>5</i><i>7</i></div>
<div class="m" style="left:1236.55px;top:497.29px;font-size:29.50px;line-height:29.50px;--w:16.70px;font-weight:600;font-family:'Noto Serif CJK SC', 'Liberation Serif', serif;-webkit-text-stroke:0.15px #000;"><i>1</i><i>7</i><i>0</i><i style="transform:translateY(-1.62px) scale(1.796,0.75)">-</i><i>1</i><i>7</i><i>5</i></div>
<div class="m" style="left:1411.55px;top:497.29px;font-size:29.50px;line-height:29.50px;--w:16.70px;font-weight:600;font-family:'Noto Serif CJK SC', 'Liberation Serif', serif;-webkit-text-stroke:0.15px #000;"><i>6</i><i>2</i><i class="p">.</i><i>5</i><i style="transform:translateY(-1.62px) scale(1.796,0.75)">-</i><i>6</i><i>5</i></div>
<div class="m" style="left:28.90px;top:582.69px;font-size:31.00px;line-height:31.00px;--w:19.20px;font-weight:600;font-family:'Noto Serif CJK SC', 'Liberation Serif', serif;-webkit-text-stroke:0.15px #000;"><i>3</i><i>2</i></div>
<div class="m" style="left:112.50px;top:562.36px;font-size:30.50px;line-height:30.50px;--w:19.00px;font-weight:600;font-family:'Noto Serif CJK SC', 'Liberation Serif', serif;color:#dc0a1e;"><i>i</i><i style="transform:scaleX(0.965)">n</i><i>c</i><i style="transform:scaleX(0.970)">h</i></div>
<div class="m" style="left:131.50px;top:604.61px;font-size:31.30px;line-height:31.30px;--w:19.00px;font-weight:600;font-family:'Noto Serif CJK SC', 'Liberation Serif', serif;"><i style="transform:scaleX(0.914)">C</i><i style="font-weight:900;transform:scaleX(0.601)">M</i></div>
<div class="m" style="left:248.75px;top:561.39px;font-size:31.00px;line-height:31.00px;--w:19.10px;font-weight:600;font-family:'Noto Serif CJK SC', 'Liberation Serif', serif;color:#dc0a1e;-webkit-text-stroke:0.15px #dc0a1e;"><i>3</i><i>2</i><i class="p">.</i><i>2</i><i>8</i></div>
<div class="m" style="left:286.90px;top:605.39px;font-size:31.00px;line-height:31.00px;--w:19.10px;font-weight:600;font-family:'Noto Serif CJK SC', 'Liberation Serif', serif;-webkit-text-stroke:0.15px #000;"><i>8</i><i>2</i></div>
<div class="m" style="left:443.75px;top:561.39px;font-size:31.00px;line-height:31.00px;--w:19.10px;font-weight:600;font-family:'Noto Serif CJK SC', 'Liberation Serif', serif;color:#dc0a1e;-webkit-text-stroke:0.15px #dc0a1e;"><i>3</i><i>8</i><i class="p">.</i><i>1</i><i>9</i></div>
<div class="m" style="left:481.90px;top:605.39px;font-size:31.00px;line-height:31.00px;--w:19.10px;font-weight:600;font-family:'Noto Serif CJK SC', 'Liberation Serif', serif;-webkit-text-stroke:0.15px #000;"><i>9</i><i>7</i></div>
<div class="m" style="left:638.75px;top:561.39px;font-size:31.00px;line-height:31.00px;--w:19.10px;font-weight:600;font-family:'Noto Serif CJK SC', 'Liberation Serif', serif;color:#dc0a1e;-webkit-text-stroke:0.15px #dc0a1e;"><i>4</i><i>1</i><i class="p">.</i><i>7</i><i>3</i></div>
<div class="m" style="left:667.35px;top:605.39px;font-size:31.00px;line-height:31.00px;--w:19.10px;font-weight:600;font-family:'Noto Serif CJK SC', 'Liberation Serif', serif;-webkit-text-stroke:0.15px #000;"><i>1</i><i>0</i><i>6</i></div>
<div class="m" style="left:849.30px;top:561.39px;font-size:31.00px;line-height:31.00px;--w:19.10px;font-weight:600;font-family:'Noto Serif CJK SC', 'Liberation Serif', serif;color:#dc0a1e;-webkit-text-stroke:0.15px #dc0a1e;"><i>7</i><i class="p">.</i><i>0</i><i>9</i></div>
<div class="m" style="left:877.90px;top:605.39px;font-size:31.00px;line-height:31.00px;--w:19.10px;font-weight:600;font-family:'Noto Serif CJK SC', 'Liberation Serif', serif;-webkit-text-stroke:0.15px #000;"><i>1</i><i>8</i></div>
<div class="m" style="left:1046.75px;top:561.39px;font-size:31.00px;line-height:31.00px;--w:19.10px;font-weight:600;font-family:'Noto Serif CJK SC', 'Liberation Serif', serif;color:#dc0a1e;-webkit-text-stroke:0.15px #dc0a1e;"><i>2</i><i>2</i><i class="p">.</i><i>8</i><i>3</i></div>
<div class="m" style="left:1084.90px;top:605.39px;font-size:31.00px;line-height:31.00px;--w:19.10px;font-weight:600;font-family:'Noto Serif CJK SC', 'Liberation Serif', serif;-webkit-text-stroke:0.15px #000;"><i>5</i><i>8</i></div>
<div class="m" style="left:1236.55px;top:583.29px;font-size:29.50px;line-height:29.50px;--w:16.70px;font-weight:600;font-family:'Noto Serif CJK SC', 'Liberation Serif', serif;-webkit-text-stroke:0.15px #000;"><i>1</i><i>7</i><i>0</i><i style="transform:translateY(-1.62px) scale(1.796,0.75)">-</i><i>1</i><i>7</i><i>5</i></div>
<div class="m" style="left:1411.55px;top:583.29px;font-size:29.50px;line-height:29.50px;--w:16.70px;font-weight:600;font-family:'Noto Serif CJK SC', 'Liberation Serif', serif;-webkit-text-stroke:0.15px #000;"><i>6</i><i>5</i><i style="transform:translateY(-1.62px) scale(1.796,0.75)">-</i><i>6</i><i>8</i><i class="p">.</i><i>5</i></div>
<div class="m" style="left:28.90px;top:668.69px;font-size:31.00px;line-height:31.00px;--w:19.20px;font-weight:600;font-family:'Noto Serif CJK SC', 'Liberation Serif', serif;-webkit-text-stroke:0.15px #000;"><i>3</i><i>3</i></div>
<div class="m" style="left:112.50px;top:648.36px;font-size:30.50px;line-height:30.50px;--w:19.00px;font-weight:600;font-family:'Noto Serif CJK SC', 'Liberation Serif', serif;color:#dc0a1e;"><i>i</i><i style="transform:scaleX(0.965)">n</i><i>c</i><i style="transform:scaleX(0.970)">h</i></div>
<div class="m" style="left:131.50px;top:690.61px;font-size:31.30px;line-height:31.30px;--w:19.00px;font-weight:600;font-family:'Noto Serif CJK SC', 'Liberation Serif', serif;"><i style="transform:scaleX(0.914)">C</i><i style="font-weight:900;transform:scaleX(0.601)">M</i></div>
<div class="m" style="left:248.75px;top:647.39px;font-size:31.00px;line-height:31.00px;--w:19.10px;font-weight:600;font-family:'Noto Serif CJK SC', 'Liberation Serif', serif;color:#dc0a1e;-webkit-text-stroke:0.15px #dc0a1e;"><i>3</i><i>3</i><i class="p">.</i><i>0</i><i>7</i></div>
<div class="m" style="left:286.90px;top:691.39px;font-size:31.00px;line-height:31.00px;--w:19.10px;font-weight:600;font-family:'Noto Serif CJK SC', 'Liberation Serif', serif;-webkit-text-stroke:0.15px #000;"><i>8</i><i>4</i></div>
<div class="m" style="left:443.75px;top:647.39px;font-size:31.00px;line-height:31.00px;--w:19.10px;font-weight:600;font-family:'Noto Serif CJK SC', 'Liberation Serif', serif;color:#dc0a1e;-webkit-text-stroke:0.15px #dc0a1e;"><i>3</i><i>8</i><i class="p">.</i><i>5</i><i>8</i></div>
<div class="m" style="left:481.90px;top:691.39px;font-size:31.00px;line-height:31.00px;--w:19.10px;font-weight:600;font-family:'Noto Serif CJK SC', 'Liberation Serif', serif;-webkit-text-stroke:0.15px #000;"><i>9</i><i>8</i></div>
<div class="m" style="left:638.75px;top:647.39px;font-size:31.00px;line-height:31.00px;--w:19.10px;font-weight:600;font-family:'Noto Serif CJK SC', 'Liberation Serif', serif;color:#dc0a1e;-webkit-text-stroke:0.15px #dc0a1e;"><i>4</i><i>2</i><i class="p">.</i><i>5</i><i>2</i></div>
<div class="m" style="left:667.35px;top:691.39px;font-size:31.00px;line-height:31.00px;--w:19.10px;font-weight:600;font-family:'Noto Serif CJK SC', 'Liberation Serif', serif;-webkit-text-stroke:0.15px #000;"><i>1</i><i>0</i><i>8</i></div>
<div class="m" style="left:849.30px;top:647.39px;font-size:31.00px;line-height:31.00px;--w:19.10px;font-weight:600;font-family:'Noto Serif CJK SC', 'Liberation Serif', serif;color:#dc0a1e;-webkit-text-stroke:0.15px #dc0a1e;"><i>7</i><i class="p">.</i><i>0</i><i>9</i></div>
<div class="m" style="left:877.90px;top:691.39px;font-size:31.00px;line-height:31.00px;--w:19.10px;font-weight:600;font-family:'Noto Serif CJK SC', 'Liberation Serif', serif;-webkit-text-stroke:0.15px #000;"><i>1</i><i>8</i></div>
<div class="m" style="left:1046.75px;top:647.39px;font-size:31.00px;line-height:31.00px;--w:19.10px;font-weight:600;font-family:'Noto Serif CJK SC', 'Liberation Serif', serif;color:#dc0a1e;-webkit-text-stroke:0.15px #dc0a1e;"><i>2</i><i>3</i><i class="p">.</i><i>2</i><i>3</i></div>
<div class="m" style="left:1084.90px;top:691.39px;font-size:31.00px;line-height:31.00px;--w:19.10px;font-weight:600;font-family:'Noto Serif CJK SC', 'Liberation Serif', serif;-webkit-text-stroke:0.15px #000;"><i>5</i><i>9</i></div>
<div class="m" style="left:1236.55px;top:669.29px;font-size:29.50px;line-height:29.50px;--w:16.70px;font-weight:600;font-family:'Noto Serif CJK SC', 'Liberation Serif', serif;-webkit-text-stroke:0.15px #000;"><i>1</i><i>7</i><i>5</i><i style="transform:translateY(-1.62px) scale(1.796,0.75)">-</i><i>1</i><i>8</i><i>0</i></div>
<div class="m" style="left:1411.55px;top:669.29px;font-size:29.50px;line-height:29.50px;--w:16.70px;font-weight:600;font-family:'Noto Serif CJK SC', 'Liberation Serif', serif;-webkit-text-stroke:0.15px #000;"><i>7</i><i>0</i><i style="transform:translateY(-1.62px) scale(1.796,0.75)">-</i><i>7</i><i>2</i><i class="p">.</i><i>5</i></div>
<div class="m" style="left:28.90px;top:754.69px;font-size:31.00px;line-height:31.00px;--w:19.20px;font-weight:600;font-family:'Noto Serif CJK SC', 'Liberation Serif', serif;-webkit-text-stroke:0.15px #000;"><i>3</i><i>4</i></div>
<div class="m" style="left:112.50px;top:734.36px;font-size:30.50px;line-height:30.50px;--w:19.00px;font-weight:600;font-family:'Noto Serif CJK SC', 'Liberation Serif', serif;color:#dc0a1e;"><i>i</i><i style="transform:scaleX(0.965)">n</i><i>c</i><i style="transform:scaleX(0.970)">h</i></div>
<div class="m" style="left:131.50px;top:776.61px;font-size:31.30px;line-height:31.30px;--w:19.00px;font-weight:600;font-family:'Noto Serif CJK SC', 'Liberation Serif', serif;"><i style="transform:scaleX(0.914)">C</i><i style="font-weight:900;transform:scaleX(0.601)">M</i></div>
<div class="m" style="left:248.75px;top:733.39px;font-size:31.00px;line-height:31.00px;--w:19.10px;font-weight:600;font-family:'Noto Serif CJK SC', 'Liberation Serif', serif;color:#dc0a1e;-webkit-text-stroke:0.15px #dc0a1e;"><i>3</i><i>3</i><i class="p">.</i><i>8</i><i>6</i></div>
<div class="m" style="left:286.90px;top:777.39px;font-size:31.00px;line-height:31.00px;--w:19.10px;font-weight:600;font-family:'Noto Serif CJK SC', 'Liberation Serif', serif;-webkit-text-stroke:0.15px #000;"><i>8</i><i>6</i></div>
<div class="m" style="left:443.75px;top:733.39px;font-size:31.00px;line-height:31.00px;--w:19.10px;font-weight:600;font-family:'Noto Serif CJK SC', 'Liberation Serif', serif;color:#dc0a1e;-webkit-text-stroke:0.15px #dc0a1e;"><i>3</i><i>8</i><i class="p">.</i><i>9</i><i>8</i></div>
<div class="m" style="left:481.90px;top:777.39px;font-size:31.00px;line-height:31.00px;--w:19.10px;font-weight:600;font-family:'Noto Serif CJK SC', 'Liberation Serif', serif;-webkit-text-stroke:0.15px #000;"><i>9</i><i>9</i></div>
<div class="m" style="left:638.75px;top:733.39px;font-size:31.00px;line-height:31.00px;--w:19.10px;font-weight:600;font-family:'Noto Serif CJK SC', 'Liberation Serif', serif;color:#dc0a1e;-webkit-text-stroke:0.15px #dc0a1e;"><i>4</i><i>3</i><i class="p">.</i><i>3</i><i>1</i></div>
<div class="m" style="left:667.35px;top:777.39px;font-size:31.00px;line-height:31.00px;--w:19.10px;font-weight:600;font-family:'Noto Serif CJK SC', 'Liberation Serif', serif;-webkit-text-stroke:0.15px #000;"><i>1</i><i>1</i><i>0</i></div>
<div class="m" style="left:849.30px;top:733.39px;font-size:31.00px;line-height:31.00px;--w:19.10px;font-weight:600;font-family:'Noto Serif CJK SC', 'Liberation Serif', serif;color:#dc0a1e;-webkit-text-stroke:0.15px #dc0a1e;"><i>7</i><i class="p">.</i><i>0</i><i>9</i></div>
<div class="m" style="left:877.90px;top:777.39px;font-size:31.00px;line-height:31.00px;--w:19.10px;font-weight:600;font-family:'Noto Serif CJK SC', 'Liberation Serif', serif;-webkit-text-stroke:0.15px #000;"><i>1</i><i>8</i></div>
<div class="m" style="left:1046.75px;top:733.39px;font-size:31.00px;line-height:31.00px;--w:19.10px;font-weight:600;font-family:'Noto Serif CJK SC', 'Liberation Serif', serif;color:#dc0a1e;-webkit-text-stroke:0.15px #dc0a1e;"><i>2</i><i>3</i><i class="p">.</i><i>6</i><i>2</i></div>
<div class="m" style="left:1084.90px;top:777.39px;font-size:31.00px;line-height:31.00px;--w:19.10px;font-weight:600;font-family:'Noto Serif CJK SC', 'Liberation Serif', serif;-webkit-text-stroke:0.15px #000;"><i>6</i><i>0</i></div>
<div class="m" style="left:1236.55px;top:755.29px;font-size:29.50px;line-height:29.50px;--w:16.70px;font-weight:600;font-family:'Noto Serif CJK SC', 'Liberation Serif', serif;-webkit-text-stroke:0.15px #000;"><i>1</i><i>7</i><i>5</i><i style="transform:translateY(-1.62px) scale(1.796,0.75)">-</i><i>1</i><i>8</i><i>0</i></div>
<div class="m" style="left:1411.55px;top:755.29px;font-size:29.50px;line-height:29.50px;--w:16.70px;font-weight:600;font-family:'Noto Serif CJK SC', 'Liberation Serif', serif;-webkit-text-stroke:0.15px #000;"><i>7</i><i>5</i><i style="transform:translateY(-1.62px) scale(1.796,0.75)">-</i><i>7</i><i>7</i><i class="p">.</i><i>5</i></div>
<div class="m" style="left:28.90px;top:840.69px;font-size:31.00px;line-height:31.00px;--w:19.20px;font-weight:600;font-family:'Noto Serif CJK SC', 'Liberation Serif', serif;-webkit-text-stroke:0.15px #000;"><i>3</i><i>6</i></div>
<div class="m" style="left:112.50px;top:820.36px;font-size:30.50px;line-height:30.50px;--w:19.00px;font-weight:600;font-family:'Noto Serif CJK SC', 'Liberation Serif', serif;color:#dc0a1e;"><i>i</i><i style="transform:scaleX(0.965)">n</i><i>c</i><i style="transform:scaleX(0.970)">h</i></div>
<div class="m" style="left:131.50px;top:862.61px;font-size:31.30px;line-height:31.30px;--w:19.00px;font-weight:600;font-family:'Noto Serif CJK SC', 'Liberation Serif', serif;"><i style="transform:scaleX(0.914)">C</i><i style="font-weight:900;transform:scaleX(0.601)">M</i></div>
<div class="m" style="left:248.75px;top:819.39px;font-size:31.00px;line-height:31.00px;--w:19.10px;font-weight:600;font-family:'Noto Serif CJK SC', 'Liberation Serif', serif;color:#dc0a1e;-webkit-text-stroke:0.15px #dc0a1e;"><i>3</i><i>5</i><i class="p">.</i><i>4</i><i>3</i></div>
<div class="m" style="left:286.90px;top:863.39px;font-size:31.00px;line-height:31.00px;--w:19.10px;font-weight:600;font-family:'Noto Serif CJK SC', 'Liberation Serif', serif;-webkit-text-stroke:0.15px #000;"><i>9</i><i>0</i></div>
<div class="m" style="left:443.75px;top:819.39px;font-size:31.00px;line-height:31.00px;--w:19.10px;font-weight:600;font-family:'Noto Serif CJK SC', 'Liberation Serif', serif;color:#dc0a1e;-webkit-text-stroke:0.15px #dc0a1e;"><i>3</i><i>9</i><i class="p">.</i><i>7</i><i>6</i></div>
<div class="m" style="left:472.35px;top:863.39px;font-size:31.00px;line-height:31.00px;--w:19.10px;font-weight:600;font-family:'Noto Serif CJK SC', 'Liberation Serif', serif;-webkit-text-stroke:0.15px #000;"><i>1</i><i>0</i><i>1</i></div>
<div class="m" style="left:638.75px;top:819.39px;font-size:31.00px;line-height:31.00px;--w:19.10px;font-weight:600;font-family:'Noto Serif CJK SC', 'Liberation Serif', serif;color:#dc0a1e;-webkit-text-stroke:0.15px #dc0a1e;"><i>4</i><i>4</i><i class="p">.</i><i>8</i><i>8</i></div>
<div class="m" style="left:667.35px;top:863.39px;font-size:31.00px;line-height:31.00px;--w:19.10px;font-weight:600;font-family:'Noto Serif CJK SC', 'Liberation Serif', serif;-webkit-text-stroke:0.15px #000;"><i>1</i><i>1</i><i>4</i></div>
<div class="m" style="left:849.30px;top:819.39px;font-size:31.00px;line-height:31.00px;--w:19.10px;font-weight:600;font-family:'Noto Serif CJK SC', 'Liberation Serif', serif;color:#dc0a1e;-webkit-text-stroke:0.15px #dc0a1e;"><i>7</i><i class="p">.</i><i>4</i><i>8</i></div>
<div class="m" style="left:877.90px;top:863.39px;font-size:31.00px;line-height:31.00px;--w:19.10px;font-weight:600;font-family:'Noto Serif CJK SC', 'Liberation Serif', serif;-webkit-text-stroke:0.15px #000;"><i>1</i><i>9</i></div>
<div class="m" style="left:1046.75px;top:819.39px;font-size:31.00px;line-height:31.00px;--w:19.10px;font-weight:600;font-family:'Noto Serif CJK SC', 'Liberation Serif', serif;color:#dc0a1e;-webkit-text-stroke:0.15px #dc0a1e;"><i>2</i><i>4</i><i class="p">.</i><i>4</i><i>1</i></div>
<div class="m" style="left:1084.90px;top:863.39px;font-size:31.00px;line-height:31.00px;--w:19.10px;font-weight:600;font-family:'Noto Serif CJK SC', 'Liberation Serif', serif;-webkit-text-stroke:0.15px #000;"><i>6</i><i>2</i></div>
<div class="m" style="left:1236.55px;top:841.29px;font-size:29.50px;line-height:29.50px;--w:16.70px;font-weight:600;font-family:'Noto Serif CJK SC', 'Liberation Serif', serif;-webkit-text-stroke:0.15px #000;"><i>1</i><i>8</i><i>0</i><i style="transform:translateY(-1.62px) scale(1.796,0.75)">-</i><i>1</i><i>8</i><i>5</i></div>
<div class="m" style="left:1411.55px;top:841.29px;font-size:29.50px;line-height:29.50px;--w:16.70px;font-weight:600;font-family:'Noto Serif CJK SC', 'Liberation Serif', serif;-webkit-text-stroke:0.15px #000;"><i>8</i><i>0</i><i style="transform:translateY(-1.62px) scale(1.796,0.75)">-</i><i>8</i><i>2</i><i class="p">.</i><i>5</i></div>
</body></html>
